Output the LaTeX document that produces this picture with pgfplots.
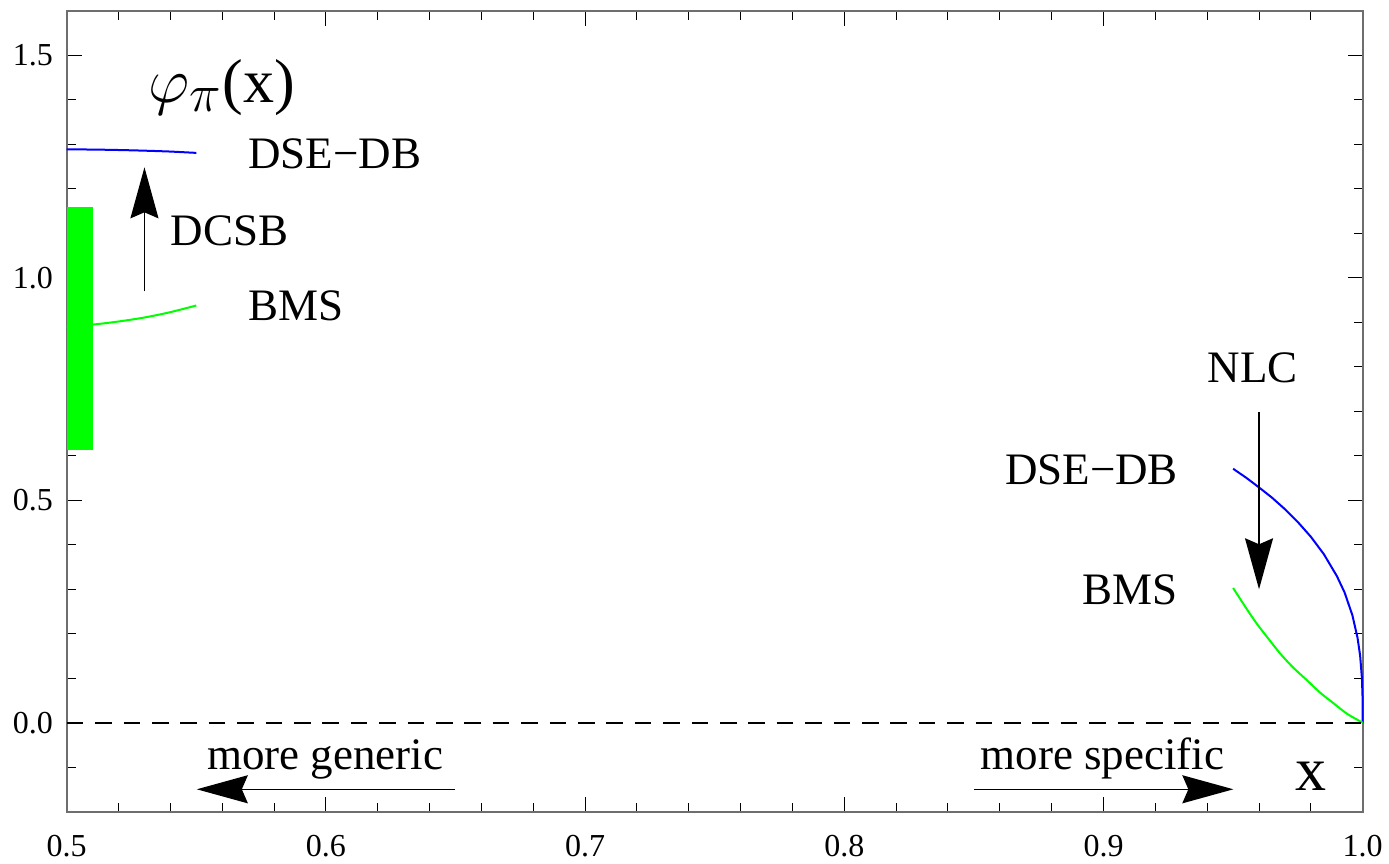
\documentclass[border=0pt]{standalone}
\usepackage{graphicx}
\usepackage{pgfplots}
\pgfplotsset{compat=1.18}
\usepackage{fontspec}
\setmainfont{Liberation Serif}
\usetikzlibrary{arrows.meta}
\definecolor{mgreen}{RGB}{0,255,0}
\definecolor{mblue}{RGB}{0,0,255}
\definecolor{framegray}{RGB}{110,110,110}

\begin{document}
\begin{tikzpicture}
\begin{axis}[
  scale only axis, width=648pt, height=400.35pt,
  xmin=0.5, xmax=1.0, ymin=-0.2, ymax=1.6,
  xtick={0.5,0.6,0.7,0.8,0.9,1.0},
  ytick={0,0.5,1.0,1.5},
  minor xtick={0.52,0.54,0.56,0.58,0.62,0.64,0.66,0.68,0.72,0.74,0.76,0.78,0.82,0.84,0.86,0.88,0.92,0.94,0.96,0.98},
  minor ytick={-0.1,0.1,0.2,0.3,0.4,0.6,0.7,0.8,0.9,1.1,1.2,1.3,1.4},
  tick align=inside,
  major tick length=7.5pt, minor tick length=4.5pt,
  axis line style={framegray, line width=0.9pt},
  every tick/.style={black, line width=0.5pt},
  ticklabel style={font=\fontsize{16}{16}\selectfont, inner sep=0pt},
  xticklabel shift=11.5pt, yticklabel shift=6.7pt,
  /pgf/number format/assume math mode=true,
  xticklabel style={/pgf/number format/.cd, fixed, fixed zerofill, precision=1},
  yticklabel style={/pgf/number format/.cd, fixed, fixed zerofill, precision=1},
  clip=false,
]
% BMS (left)
\addplot[mgreen, line width=1pt, smooth] coordinates {
  (0.50,0.890) (0.51,0.895) (0.52,0.902) (0.53,0.911) (0.54,0.923) (0.55,0.938)};
% DSE-DB (left)
\addplot[mblue, line width=1pt, smooth] coordinates {
  (0.50,1.289) (0.51,1.2885) (0.52,1.2875) (0.53,1.286) (0.54,1.284) (0.55,1.281)};
% green band
\addplot[fill=mgreen, draw=none] coordinates {
  (0.5,0.614) (0.5101,0.614) (0.5101,1.160) (0.5,1.160)} -- cycle;
% DSE-DB (right)
\addplot[mblue, line width=1pt] coordinates {
  (0.950,0.571) (0.955,0.551) (0.960,0.529) (0.965,0.506) (0.970,0.480)
  (0.975,0.451) (0.980,0.418) (0.985,0.379) (0.990,0.330) (0.993,0.293)
  (0.996,0.242) (0.998,0.191) (0.999,0.151) (0.9997,0.100) (0.99995,0.055) (1.0,0.0)};
% BMS (right)
\addplot[mgreen, line width=1pt, smooth] coordinates {
  (0.950,0.303) (0.955,0.258) (0.9591,0.223) (0.9636,0.189) (0.9681,0.156)
  (0.973,0.125) (0.9784,0.096) (0.9835,0.068) (0.9887,0.044) (0.994,0.020) (1.0,0.0)};
% zero line
\addplot[black, line width=1pt, dash pattern=on 8.3pt off 5.9pt] coordinates {(0.5,0) (1.0,0)};

% arrows
\draw[line width=0.75pt, -{Stealth[length=25.5pt, width=14pt, inset=3pt]}]
  (axis cs:0.530,0.9695) -- (axis cs:0.530,1.2486);
\draw[line width=0.75pt, -{Stealth[length=25.5pt, width=14pt, inset=3pt]}]
  (axis cs:0.960,0.698) -- (axis cs:0.960,0.300);
\draw[line width=0.75pt, -{Stealth[length=25.5pt, width=14pt, inset=3pt]}]
  (axis cs:0.6498,-0.1496) -- (axis cs:0.5502,-0.1496);
\draw[line width=0.75pt, -{Stealth[length=25.5pt, width=14pt, inset=3pt]}]
  (axis cs:0.8502,-0.1496) -- (axis cs:0.9501,-0.1496);

% labels
\node[anchor=base, inner sep=0pt, font=\fontsize{31}{31}\selectfont] at (axis cs:0.5598,1.395) {{\fontsize{24.88}{25}\selectfont\scalebox{1.286}{$\varphi_{\pi}$}}(x)};
\node[anchor=base west, inner sep=0pt, font=\fontsize{22.5}{22.5}\selectfont] at (axis cs:0.5699,1.245) {DSE−DB};
\node[anchor=base west, inner sep=0pt, font=\fontsize{22.5}{22.5}\selectfont] at (axis cs:0.5399,1.0728) {DCSB};
\node[anchor=base west, inner sep=0pt, font=\fontsize{22.5}{22.5}\selectfont] at (axis cs:0.5699,0.9043) {BMS};
\node[anchor=base, inner sep=0pt, font=\fontsize{22.5}{22.5}\selectfont] at (axis cs:0.9576,0.7644) {NLC};
\node[anchor=base east, inner sep=0pt, font=\fontsize{22.5}{22.5}\selectfont] at (axis cs:0.9289,0.5349) {DSE−DB};
\node[anchor=base east, inner sep=0pt, font=\fontsize{22.5}{22.5}\selectfont] at (axis cs:0.9289,0.2666) {BMS};
\node[anchor=base west, inner sep=0pt, font=\fontsize{22.5}{22.5}\selectfont] at (axis cs:0.554,-0.1047) {more generic};
\node[anchor=base west, inner sep=0pt, font=\fontsize{22.5}{22.5}\selectfont] at (axis cs:0.8524,-0.1047) {more specific};
\node[anchor=base, inner sep=0pt, font=\fontsize{31}{31}\selectfont] at (axis cs:0.9802,-0.1527) {x};
\end{axis}
\path ([shift={(-33.35pt,-25.65pt)}]current axis.south west) rectangle ([shift={(13.15pt,5.5pt)}]current axis.north east);
\end{tikzpicture}
\end{document}
